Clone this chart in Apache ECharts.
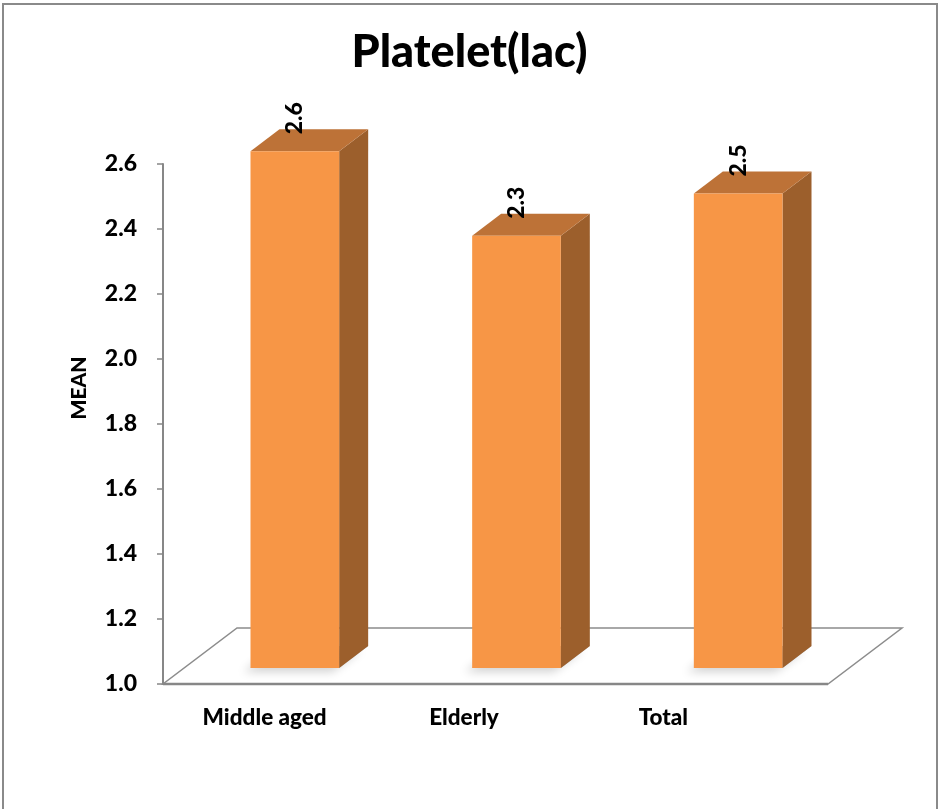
<!DOCTYPE html>
<html>
<head>
<meta charset="utf-8">
<script src="https://cdn.jsdelivr.net/npm/echarts@6/dist/echarts.min.js"></script>
<style>
  html, body { margin: 0; padding: 0; background: #fff; }
  #frame { position: absolute; left: 2px; top: 3px; width: 932px; height: 840px; border: 2px solid #8a8a8a; }
  #chart { position: absolute; left: 0; top: 0; width: 939px; height: 809px; }
</style>
</head>
<body>
<div id="frame"></div>
<div id="chart"></div>
<script>
const categories = ["Middle aged", "Elderly", "Total"];
const meanValues = [2.59, 2.33, 2.46];
const yMin = 1.0;
const yMax = 2.6;
const yStep = 0.2;

// 3D look: offsets in px
const FLOOR_DEPTH = [74, -56];
const BAR_FRONT = [21, -16];
const BAR_DEPTH = [29, -22];

const chart = echarts.init(document.getElementById("chart"));
const FONT = "Lato, 'Open Sans', sans-serif";

function renderFloor(params, api) {
  const cs = params.coordSys;
  const xl = cs.x, xr = cs.x + cs.width, yb = cs.y + cs.height;
  const dx = FLOOR_DEPTH[0], dy = FLOOR_DEPTH[1];
  return {
    type: "group",
    children: [
      {
        type: "polygon",
        shape: { points: [[xl, yb], [xr, yb], [xr + dx, yb + dy], [xl + dx, yb + dy]] },
        style: { fill: "#fff", stroke: "#8c8c8c", lineWidth: 1.5 },
      },
      {
        type: "line",
        shape: { x1: xl, y1: yb, x2: xr, y2: yb },
        style: { stroke: "#878787", lineWidth: 2.5 },
      },
    ],
  };
}

function renderBar(params, api) {
  const idx = api.value(0);
  const val = api.value(1);
  const top = api.coord([idx, val]);
  const base = api.coord([idx, yMin]);
  const bw = api.size([1, 0])[0] * 0.4;
  const x0 = top[0] - bw / 2 + BAR_FRONT[0];
  const x1 = x0 + bw;
  const yT = top[1] + BAR_FRONT[1];
  const yB = base[1] + BAR_FRONT[1];
  const dx = BAR_DEPTH[0], dy = BAR_DEPTH[1];
  return {
    type: "group",
    children: [
      {
        type: "polygon",
        shape: { points: [[x0, yB], [x1, yB], [x1 + dx, yB + dy], [x0 + dx, yB + dy]] },
        style: {
          fill: "rgba(0,0,0,0.3)",
          shadowBlur: 10,
          shadowColor: "rgba(0,0,0,0.6)",
          shadowOffsetX: -7,
          shadowOffsetY: 4,
        },
      },
      {
        type: "polygon",
        shape: { points: [[x1, yT], [x1 + dx, yT + dy], [x1 + dx, yB + dy], [x1, yB]] },
        style: { fill: "#9c5f2c" },
      },
      {
        type: "polygon",
        shape: { points: [[x0, yT], [x1, yT], [x1 + dx, yT + dy], [x0 + dx, yT + dy]] },
        style: { fill: "#bd7237" },
      },
      {
        type: "rect",
        shape: { x: x0, y: yT, width: bw, height: yB - yT },
        style: { fill: "#f79646" },
      },
      {
        type: "text",
        x: (x0 + x1) / 2,
        y: yT + dy + 5,
        rotation: Math.PI / 2,
        style: {
          text: val.toFixed(1),
          textAlign: "left",
          textVerticalAlign: "middle",
          font: "900 23px " + FONT,
          fill: "#000",
        },
      },
    ],
  };
}

const option = {
  animation: false,
  title: {
    text: "Platelet(lac)",
    left: "center",
    top: 25,
    textStyle: { fontSize: 45, fontWeight: 900, fontFamily: FONT, color: "#000" },
  },
  grid: [
    { left: 163, right: 111, top: 164, bottom: 125 },
    { left: 165, right: 176, top: 164, bottom: 125 },
  ],
  xAxis: [
    {
      type: "category",
      gridIndex: 0,
      data: categories,
      axisLine: { show: false },
      axisTick: { show: false },
      axisLabel: { show: false },
    },
    {
      type: "category",
      gridIndex: 1,
      data: categories,
      axisLine: { show: false },
      axisTick: { show: false },
      axisLabel: { fontSize: 22.5, fontWeight: 900, fontFamily: FONT, color: "#000", margin: 22 },
    },
  ],
  yAxis: [
    {
      type: "value",
      gridIndex: 0,
      min: yMin,
      max: yMax,
      interval: yStep,
      axisLine: { show: true, lineStyle: { color: "#878787", width: 2 } },
      axisTick: { show: true, length: 6, lineStyle: { color: "#878787", width: 1.5 } },
      splitLine: { show: false },
      axisLabel: {
        formatter: (v) => v.toFixed(1),
        fontSize: 23,
        fontWeight: 900,
        fontFamily: FONT,
        color: "#000",
        margin: 26,
      },
    },
    { type: "value", gridIndex: 1, show: false, min: yMin, max: yMax },
  ],
  graphic: [
    {
      type: "text",
      x: 79,
      y: 388,
      rotation: Math.PI / 2,
      style: {
        text: "MEAN",
        textAlign: "center",
        textVerticalAlign: "middle",
        font: "900 21px " + FONT,
        fill: "#000",
      },
    },
  ],
  series: [
    {
      type: "custom",
      xAxisIndex: 0,
      yAxisIndex: 0,
      z: 1,
      silent: true,
      renderItem: renderFloor,
      data: [[0, yMin]],
    },
    {
      type: "custom",
      xAxisIndex: 0,
      yAxisIndex: 0,
      z: 3,
      renderItem: renderBar,
      data: meanValues.map((v, i) => [i, v]),
    },
  ],
};

chart.setOption(option);
</script>
</body>
</html>
